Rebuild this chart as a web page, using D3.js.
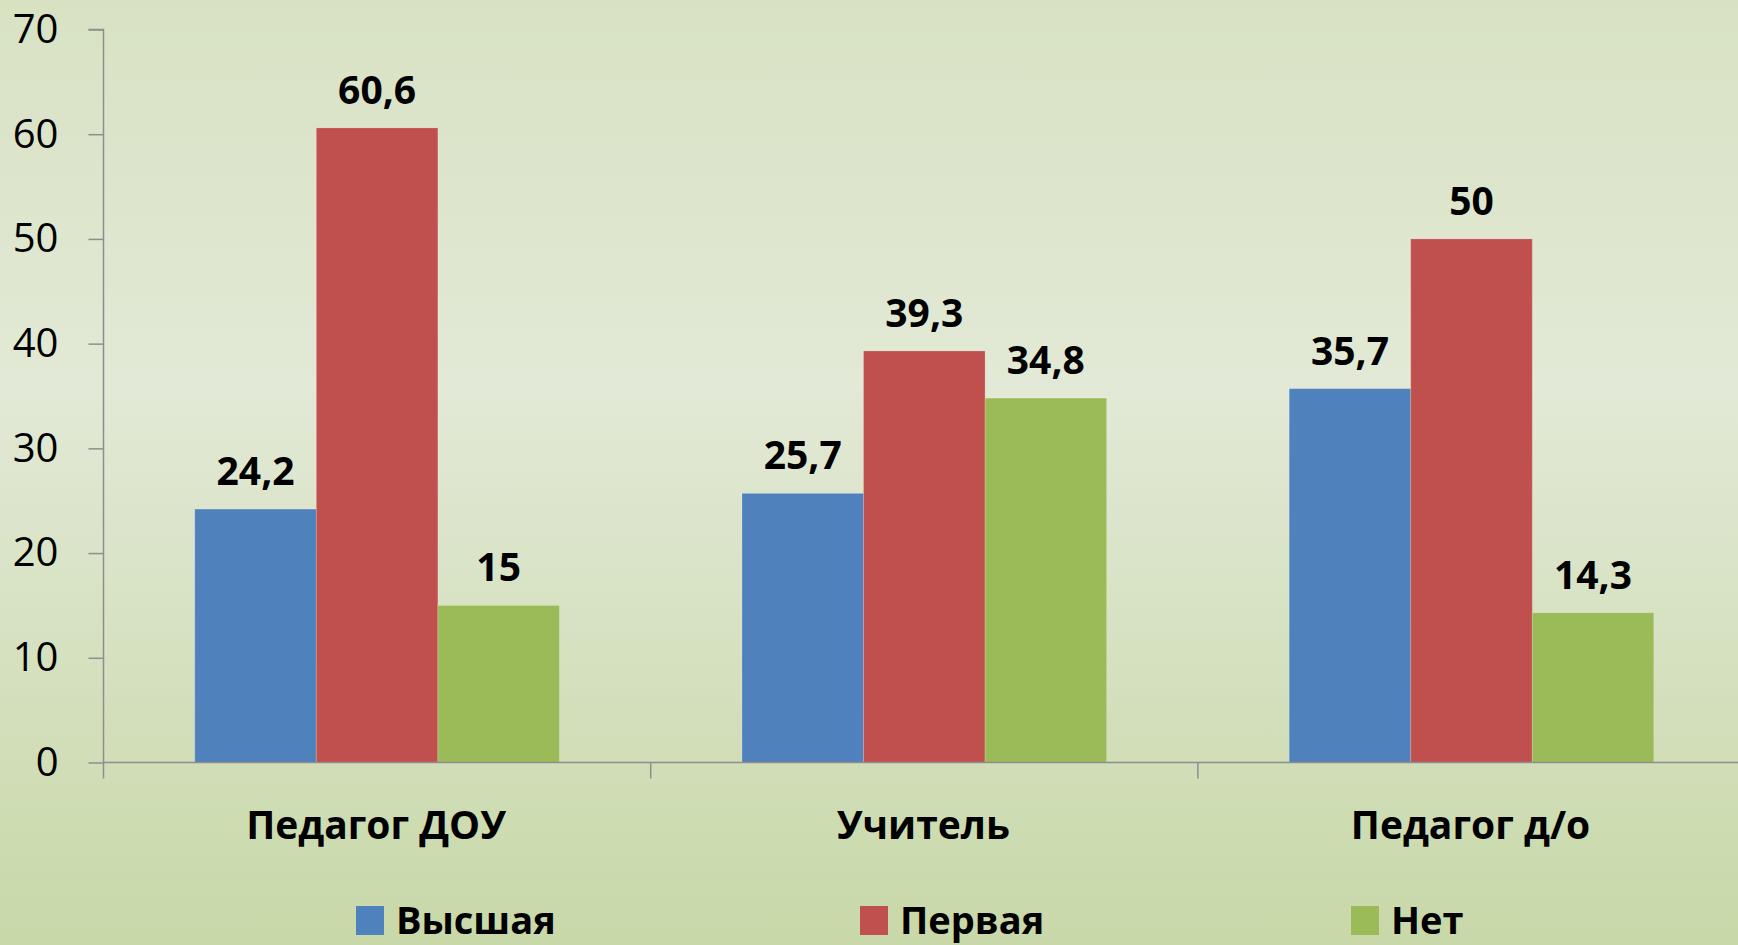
<!DOCTYPE html>
<html>
<head>
<meta charset="utf-8">
<script src="https://cdn.jsdelivr.net/npm/d3@7"></script>
<style>
html,body{margin:0;padding:0;overflow:hidden;}
svg{display:block;}
</style>
</head>
<body>
<script>
const categories = ["Педагог ДОУ", "Учитель", "Педагог д/о"];
const seriesNames = ["Высшая", "Первая", "Нет"];
const vysshaya = [24.2, 25.7, 35.7];
const pervaya = [60.6, 39.3, 50];
const net = [15, 34.8, 14.3];
const yTicks = [0, 10, 20, 30, 40, 50, 60, 70];
const colors = ["#4f81bd", "#c0504d", "#9bbb59"];
const seriesValues = [vysshaya, pervaya, net];

const W = 1738, H = 945;
const svg = d3.select("body").append("svg").attr("width", W).attr("height", H);

const defs = svg.append("defs");
const grad = defs.append("linearGradient").attr("id", "bg").attr("x1", 0).attr("y1", 0).attr("x2", 0).attr("y2", 1);
grad.append("stop").attr("offset", "0%").attr("stop-color", "#d8e2c3");
grad.append("stop").attr("offset", "41%").attr("stop-color", "#e2e9d6");
grad.append("stop").attr("offset", "100%").attr("stop-color", "#c8d8a8");
svg.append("rect").attr("width", W).attr("height", H).attr("fill", "url(#bg)");

const axisX = 103.5, bandW = 547.2;
const y = d3.scaleLinear().domain([0, 70]).range([762.5, 29.5]);
const x0 = d3.scaleBand().domain(categories).range([axisX, axisX + bandW * 3]).padding(0);
const x1 = d3.scaleBand().domain(seriesNames).range([91.3, bandW - 91.3]).padding(0);

const font = "'Open Sans', 'DejaVu Sans', sans-serif";
const axisColor = "#8e8e8e";

// bars
const groups = svg.append("g").selectAll("g").data(categories).join("g")
  .attr("transform", d => `translate(${x0(d)},0)`);
groups.each(function(cat, ci) {
  const g = d3.select(this);
  seriesNames.forEach((s, si) => {
    const v = seriesValues[si][ci];
    g.append("rect")
      .attr("x", x1(s)).attr("width", x1.bandwidth())
      .attr("y", y(v)).attr("height", y(0) - y(v))
      .attr("fill", colors[si])
      .attr("stroke", "rgba(255,255,255,0.18)").attr("stroke-width", 1);
    g.append("text")
      .attr("x", x1(s) + x1.bandwidth() / 2)
      .attr("y", y(v) - 24)
      .attr("text-anchor", "middle")
      .attr("font-family", font).attr("font-weight", "bold").attr("font-size", 39)
      .attr("fill", "#000")
      .text(String(v).replace(".", ","));
  });
});

// y axis
const yAxis = d3.axisLeft(y).tickValues(yTicks).tickSize(15).tickPadding(30);
const yg = svg.append("g").attr("transform", `translate(${axisX},0)`).call(yAxis);
yg.select(".domain").attr("stroke", axisColor).attr("stroke-width", 1.5).attr("d", `M-15,${y(70)}H0V${y(0)}`);
yg.selectAll(".tick line").attr("stroke", axisColor).attr("stroke-width", 1.5);
yg.selectAll(".tick text").attr("font-family", font).attr("font-size", 40).attr("fill", "#000");

// x axis
const xg = svg.append("g").attr("transform", `translate(0,${y(0)})`);
xg.append("line").attr("x1", axisX).attr("x2", W).attr("y1", 0).attr("y2", 0)
  .attr("stroke", axisColor).attr("stroke-width", 1.5);
const boundaries = categories.map(c => x0(c));
xg.selectAll("line.tk").data(boundaries).join("line").attr("class", "tk")
  .attr("x1", d => d).attr("x2", d => d).attr("y1", 0).attr("y2", 16)
  .attr("stroke", axisColor).attr("stroke-width", 1.5);
xg.selectAll("text").data(categories).join("text")
  .attr("x", d => x0(d) + bandW / 2 - 1)
  .attr("y", 76)
  .attr("text-anchor", "middle")
  .attr("font-family", font).attr("font-weight", "bold").attr("font-size", 39)
  .attr("fill", "#000")
  .text(d => d);

// legend
const legendX = [356, 860, 1351];
const lg = svg.append("g").selectAll("g").data(seriesNames).join("g")
  .attr("transform", (d, i) => `translate(${legendX[i]},906)`);
lg.append("rect").attr("width", 28).attr("height", 29).attr("fill", (d, i) => colors[i]);
lg.append("text").attr("x", 40).attr("y", 28)
  .attr("font-family", font).attr("font-weight", "bold").attr("font-size", 38)
  .attr("fill", "#000").text(d => d);
</script>
</body>
</html>
